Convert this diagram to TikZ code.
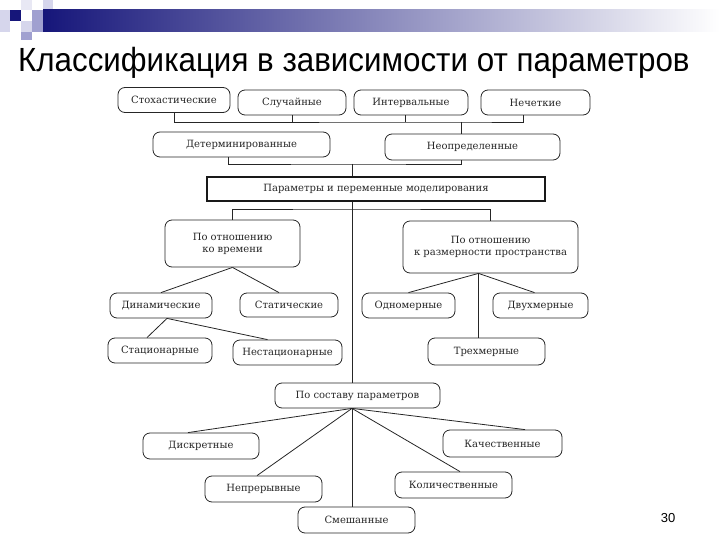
\documentclass[tikz,border=0pt]{standalone}
\usepackage{fontspec}
\usepackage{graphicx}
\setmainfont{DejaVu Serif}
\newfontfamily\titlefont{Liberation Sans}
\usepackage{tikz}
\usetikzlibrary{positioning}
\usepackage{xcolor}

\definecolor{navy}{RGB}{22,22,122}
\definecolor{hdlight}{RGB}{214,214,236}
\definecolor{hdpale}{RGB}{232,232,244}
\definecolor{hdmid}{RGB}{160,160,208}

\tikzset{
  cls/.style={draw=black!85, line width=0.8pt, rounded corners=7pt, minimum height=25pt,
    inner sep=1pt, align=center, text=black!85, font=\fontsize{10}{12}\selectfont},
  mainbox/.style={draw=black!90, line width=1.2pt, minimum height=24pt,
    inner sep=1pt, text=black!85, font=\fontsize{10}{12}\selectfont},
  link/.style={black!85, line width=0.8pt}
}

\begin{document}
\begin{tikzpicture}[x=1pt,y=-1pt]
\useasboundingbox (0,0) rectangle (720,540);

% header
{
\fill[hdlight] (0,10) rectangle (10,32);
\fill[navy] (10,10) rectangle (21,21);
\fill[hdpale] (21,0) rectangle (32,10);
\fill[hdmid] (32,10) rectangle (43,21);
\fill[hdlight] (43,0) rectangle (53,10);
\fill[hdmid] (32,21) rectangle (43,32);
\fill[hdlight] (21,21) rectangle (32,32);
\fill[hdmid] (21,32) rectangle (32,40);
\shade[left color=navy, right color=white] (43,10) rectangle (720,32);
}

\node[anchor=base west, inner sep=0] (title) at (18,72)
  {\scalebox{0.935}[1]{\titlefont\fontsize{33.5}{40}\selectfont Классификация в зависимости от параметров}};

% top row
\node[cls, minimum width=112pt] (sto) at (174,100) {Стохастические};
\node[cls, minimum width=108pt] (rnd) at (292,102.5) {Случайные};
\node[cls, minimum width=114pt] (itv) at (411,102.5) {Интервальные};
\node[cls, minimum width=109pt] (fuz) at (535.5,102.5) {Нечеткие};

\node[cls, minimum width=177pt] (det) at (241.5,144.5) {Детерминированные};
\node[cls, minimum width=175pt, minimum height=26pt] (unc) at (472.5,147) {Неопределенные};

\node[mainbox, minimum width=338pt] (main) at (376,189) {Параметры и переменные моделирования};

\coordinate (bus1) at (461,122);
\coordinate (bus2) at (352,164);
\coordinate (bus3) at (352,209);

\draw[link] (sto.south) |- (bus1) -| ([xshift=-12pt]fuz.south);
\draw[link] (rnd.south) -- (rnd.south |- bus1);
\draw[link] ([xshift=-6pt]itv.south) -- ([xshift=-6pt]itv.south |- bus1);
\draw[link] (bus1) -- (bus1 |- unc.north);

\draw[link] ([xshift=-13pt]det.south) |- (bus2) -| (bus1 |- unc.south);
\draw[link] (bus2) -- (bus2 |- main.north);

% time and space
\node[cls, minimum width=135pt, minimum height=47pt] (time) at (232.5,243.5) {По отношению\\ко времени};
\node[cls, minimum width=175pt, minimum height=52pt] (space) at (490.5,247) {По отношению\\к размерности пространства};

\draw[link] (time.north) |- (bus3) -| (space.north);

\node[cls, minimum width=102pt] (dyn) at (161,305.5) {Динамические};
\node[cls, minimum width=98pt, minimum height=24pt] (stat) at (289,305) {Статические};
\node[cls, minimum width=93pt] (one) at (408.5,305.5) {Одномерные};
\node[cls, minimum width=95pt] (two) at (540.5,305.5) {Двухмерные};

\node[cls, minimum width=104pt] (stn) at (160,350.5) {Стационарные};
\node[cls, minimum width=109pt] (nstn) at (287.5,352.5) {Нестационарные};
\node[cls, minimum width=117pt, minimum height=27pt] (three) at (486.5,351.5) {Трехмерные};

\draw[link] (time.south) -- (dyn.north);
\draw[link] (time.south) -- ([xshift=-10pt]stat.north);
\draw[link] ([xshift=-12pt]space.south) -- (one.north);
\draw[link] ([xshift=-12pt]space.south) -- ([xshift=-6pt]two.north);
\draw[link] ([xshift=-12pt]space.south) -- ([xshift=-8pt]three.north);
\draw[link] ([xshift=6pt]dyn.south) -- ([xshift=-13pt]stn.north);
\draw[link] ([xshift=6pt]dyn.south) -- ([xshift=-20pt]nstn.north);

% composition
\node[cls, minimum width=165pt] (comp) at (357.5,395.5) {По составу параметров};

\draw[link] (bus2 |- main.south) -- (bus2 |- comp.north);

\node[cls, minimum width=116pt, minimum height=26pt] (disc) at (201,446) {Дискретные};
\node[cls, minimum width=117pt, minimum height=26pt] (cont) at (263.5,489) {Непрерывные};
\node[cls, minimum width=117pt, minimum height=26pt] (mix) at (356.5,520) {Смешанные};
\node[cls, minimum width=117pt, minimum height=26pt] (quan) at (453.5,485) {Количественные};
\node[cls, minimum width=119pt, minimum height=27pt] (qual) at (502.5,443.5) {Качественные};

\draw[link] (bus2 |- comp.south) -- ([xshift=-13pt]disc.north);
\draw[link] (bus2 |- comp.south) -- ([xshift=-6.5pt]cont.north);
\draw[link] (bus2 |- comp.south) -- ([xshift=-4.5pt]mix.north);
\draw[link] (bus2 |- comp.south) -- ([xshift=6.5pt]quan.north);
\draw[link] (bus2 |- comp.south) -- ([xshift=22.5pt]qual.north);

\node[font=\titlefont\fontsize{13}{15}\selectfont] (page) at (668,518) {30};

\end{tikzpicture}
\end{document}
